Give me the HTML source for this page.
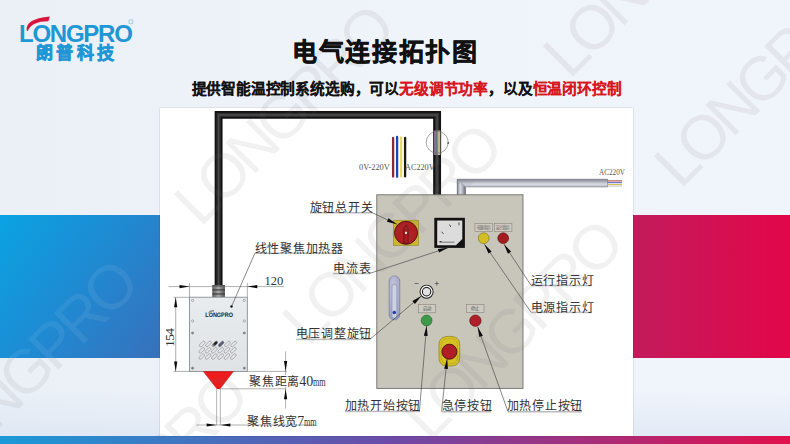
<!DOCTYPE html>
<html lang="zh-CN">
<head>
<meta charset="utf-8">
<style>
html,body{margin:0;padding:0;}
body{width:790px;height:444px;overflow:hidden;position:relative;font-family:"Liberation Sans",sans-serif;
background:linear-gradient(180deg,rgba(200,215,232,0) 0%,rgba(200,215,232,0) 88%,rgba(205,220,238,0.4) 98%),linear-gradient(90deg,#ebf0f7 0%,#eff3fa 50%,#f0f4fb 100%);}
.abs{position:absolute;}
#blue{left:0;top:215px;width:170px;height:143px;background:linear-gradient(125deg,#0aa3e3 0%,#1e8bd3 45%,#3a6eb9 100%);}
#red{left:630px;top:215px;width:160px;height:143px;background:linear-gradient(90deg,#c21c5c 0%,#e2064a 100%);}
#strip{left:0;top:436px;width:790px;height:8px;background:linear-gradient(90deg,#1a9ad8 0%,#6d4aa6 50%,#e2104c 100%);}
#panel{left:160px;top:108px;width:473px;height:328px;background:#fff;box-shadow:0 0 1.2px rgba(0,20,60,0.35);}
.title{left:292px;top:40px;font-size:25px;font-weight:900;letter-spacing:1.7px;-webkit-text-stroke:0.5px #111;color:#111;white-space:nowrap;line-height:1;}
.sub{left:191.5px;top:81.5px;font-size:14.7px;font-weight:900;letter-spacing:-0.17px;-webkit-text-stroke:0.1px currentColor;color:#111;white-space:nowrap;line-height:1;}
.sub .r{color:#d8161e;}
.lbl{position:absolute;font-family:"Liberation Serif",serif;font-size:12px;letter-spacing:0.8px;color:#333;white-space:nowrap;line-height:1;}
.lbl.sm{font-size:9px;letter-spacing:0;color:#555;}
.lbl.dim{font-size:12px;letter-spacing:0;}
.lat{letter-spacing:0;font-size:14px;margin-left:-1px;}
.mm{display:inline-block;transform:scaleX(.68);transform-origin:0 50%;letter-spacing:0;}
.wm{position:absolute;width:310px;height:62px;font-family:"Liberation Sans",sans-serif;font-size:62px;line-height:62px;text-align:center;color:rgba(110,110,110,0.095);white-space:nowrap;letter-spacing:-5px;transform:rotate(-45deg);transform-origin:50% 50%;pointer-events:none;}
.wmw{color:rgba(255,255,255,0.07);}
.rot{transform:rotate(-90deg);transform-origin:0 0;}
</style>
</head>
<body>
<div class="abs" style="left:0;top:0;width:790px;height:444px;overflow:hidden">
<div class="wm" style="left:-128.2px;top:340.2px">LONGPRO</div>
<div class="wm" style="left:-18.2px;top:453.2px">LONGPRO</div>
<div class="wm" style="left:128.2px;top:84.8px">LONGPRO</div>
<div class="wm" style="left:236.2px;top:203.8px">LONGPRO</div>
<div class="wm" style="left:356.8px;top:300.2px">LONGPRO</div>
<div class="wm" style="left:497.2px;top:-62.7px">LONGPRO</div>
<div class="wm" style="left:608.2px;top:46.8px">LONGPRO</div>
</div>
<div id="blue" class="abs"></div>
<div class="abs" style="left:0;top:215px;width:170px;height:143px;overflow:hidden">
<div class="wm wmw" style="left:-128.2px;top:125.2px">LONGPRO</div>
<div class="wm wmw" style="left:-18.2px;top:238.2px">LONGPRO</div>
<div class="wm wmw" style="left:128.2px;top:-130.2px">LONGPRO</div>
<div class="wm wmw" style="left:236.2px;top:-11.2px">LONGPRO</div>
<div class="wm wmw" style="left:356.8px;top:85.2px">LONGPRO</div>
<div class="wm wmw" style="left:497.2px;top:-277.7px">LONGPRO</div>
<div class="wm wmw" style="left:608.2px;top:-168.2px">LONGPRO</div>
</div>
<div id="red" class="abs"></div>
<div id="strip" class="abs"></div>
<div id="panel" class="abs"></div>

<div class="abs title">电气连接拓扑图</div>
<div class="abs sub">提供智能温控制系统选购，可以<span class="r">无级调节功率</span>，以及<span class="r">恒温闭环控制</span></div>

<svg id="diag" class="abs" style="left:0;top:0" width="790" height="444" viewBox="0 0 790 444">
<defs>
<linearGradient id="heat" x1="0" x2="0" y1="0" y2="1">
<stop offset="0" stop-color="#e9ecef"/><stop offset="1" stop-color="#dfe3e6"/>
</linearGradient>
<linearGradient id="pipeH" x1="0" x2="0" y1="0" y2="1">
<stop offset="0" stop-color="#7e808e"/><stop offset="0.3" stop-color="#d8dae2"/><stop offset="0.55" stop-color="#b8bac6"/><stop offset="1" stop-color="#6a6c7a"/>
</linearGradient>
<linearGradient id="pipeV" x1="0" x2="1" y1="0" y2="0">
<stop offset="0" stop-color="#7e808e"/><stop offset="0.35" stop-color="#d8dae2"/><stop offset="0.6" stop-color="#b8bac6"/><stop offset="1" stop-color="#6a6c7a"/>
</linearGradient>
<linearGradient id="gland" x1="0" x2="1" y1="0" y2="0">
<stop offset="0" stop-color="#5a5a5a"/><stop offset="0.5" stop-color="#a8a8a8"/><stop offset="1" stop-color="#505050"/>
</linearGradient>
<linearGradient id="vdark" x1="0" x2="1" y1="0" y2="0">
<stop offset="0" stop-color="#ccc"/><stop offset="0.5" stop-color="#222"/><stop offset="1" stop-color="#222"/>
</linearGradient>
<radialGradient id="thermo" cx="0.4" cy="0.3" r="0.8">
<stop offset="0" stop-color="#c0c6de"/><stop offset="1" stop-color="#9aa0c0"/>
</radialGradient>
</defs>
<!-- black cable -->
<path d="M218.6 286 V114.9 H437.1 V195" fill="none" stroke="#111" stroke-width="7.9" stroke-linejoin="miter"/>
<path d="M218.6 286 V114.9 H437.1 V195" fill="none" stroke="#2e2e2e" stroke-width="4.2" stroke-linejoin="miter"/>
<path d="M218.6 286 V114.9 H437.1 V195" fill="none" stroke="#474747" stroke-width="1.6" stroke-linejoin="miter"/>
<!-- cut-open section -->
<rect x="433.1" y="130.5" width="8" height="24.5" fill="#1e1e1e"/>
<rect x="433.7" y="130.5" width="2.7" height="24.5" fill="#8e6a90"/>
<rect x="436.4" y="130.5" width="1.1" height="24.5" fill="#6fa2b4"/>
<rect x="437.5" y="130.5" width="2.8" height="24.5" fill="#bfb688"/>
<circle cx="437.2" cy="142.3" r="11" fill="none" stroke="#6a6a6a" stroke-width="0.6"/>
<circle cx="448.2" cy="143" r="0.9" fill="#555"/>
<!-- wire bundle -->
<g stroke-width="2.3" stroke-linecap="round">
<line x1="393.1" y1="138" x2="393.1" y2="176.5" stroke="#8c2a32"/>
<line x1="397.1" y1="137" x2="397.1" y2="176.8" stroke="#1f44b4"/>
<line x1="401.1" y1="137.4" x2="401.1" y2="176.6" stroke="#e8dc62"/>
<line x1="405.1" y1="138" x2="405.1" y2="176.4" stroke="#1a1a1a"/>
</g>
<!-- gray pipe -->
<path d="M457.2 179.2 H607.6 V186.9 H465.5 V195 H457.2 Z" fill="url(#pipeH)"/>
<path d="M457.2 179.2 L465.5 186.9 V195 H457.2 Z" fill="url(#pipeV)"/>
<path d="M457.2 195 V179.2 H607.6 V186.9 H465.5 V195" fill="none" stroke="#5e606c" stroke-width="0.5"/>
<line x1="457.2" y1="179.2" x2="465.5" y2="186.9" stroke="#8a8c98" stroke-width="0.5"/>
<line x1="607.6" y1="180.9" x2="622" y2="180.9" stroke="#a83a3a" stroke-width="1"/>
<line x1="607.6" y1="182.7" x2="622" y2="182.7" stroke="#4a5ab0" stroke-width="1"/>
<line x1="607.6" y1="184.5" x2="622" y2="184.5" stroke="#d0c050" stroke-width="1"/>
<line x1="607.6" y1="186.1" x2="622" y2="186.1" stroke="#999" stroke-width="0.6"/>
<!-- control box -->
<rect x="376.8" y="194.8" width="146.2" height="193.6" fill="#c8c5bb" stroke="#6f6f6b" stroke-width="0.9"/>
<!-- rotary switch -->
<rect x="393.4" y="220.2" width="25.2" height="25.3" fill="#cbb72c" stroke="#8a7c2a" stroke-width="0.5"/>
<circle cx="406" cy="232.8" r="11.5" fill="#b01c20" stroke="#4e0c0e" stroke-width="0.9"/>
<path d="M403.9 228 L406 224.8 L408.1 228 L408.1 243.2 L403.9 243.2 Z" fill="#a81a1e" stroke="#4e0c0e" stroke-width="0.6"/>
<rect x="405" y="231.8" width="2" height="2" fill="#f4f4f4"/>
<!-- ammeter -->
<rect x="434.3" y="217.8" width="30.6" height="30.1" fill="#121212"/>
<path d="M437.2 220.5 H462.3 V239 L456 245.3 H437.2 Z" fill="#dcdcdc"/>
<line x1="439.5" y1="242.2" x2="454.5" y2="242.2" stroke="#333" stroke-width="0.6"/><line x1="439.5" y1="241.6" x2="441.5" y2="241.6" stroke="#222" stroke-width="0.9"/>
<line x1="441.5" y1="232" x2="443.6" y2="233.6" stroke="#222" stroke-width="0.8"/>
<line x1="449.5" y1="224.6" x2="450.8" y2="227" stroke="#222" stroke-width="0.8"/>
<line x1="459" y1="222.5" x2="459" y2="225.2" stroke="#222" stroke-width="0.8"/>
<!-- indicator labels -->
<g fill="#cdcac1" stroke="#86847c" stroke-width="0.6">
<rect x="475" y="223.3" width="17.5" height="8.1"/>
<rect x="494.3" y="223.3" width="17.6" height="8.1"/>
<rect x="418.4" y="304.4" width="17.2" height="8.4"/>
<rect x="466.5" y="304.4" width="17.5" height="8.2"/>
</g>
<g font-family="Liberation Sans" font-size="4.4" fill="#555">
<text x="477" y="229.3" textLength="13.5" lengthAdjust="spacingAndGlyphs">电源指示</text>
<text x="496.3" y="229.3" textLength="13.5" lengthAdjust="spacingAndGlyphs">运行指示</text>
<text x="423" y="310.2" textLength="8" lengthAdjust="spacingAndGlyphs">启动</text>
<text x="471.3" y="310.2" textLength="8" lengthAdjust="spacingAndGlyphs">停止</text>
</g>
<circle cx="483.7" cy="238.2" r="5.4" fill="#d2be22" stroke="#7a6a18" stroke-width="0.6"/>
<circle cx="503.2" cy="238.2" r="5.4" fill="#a41c1e" stroke="#5a0e10" stroke-width="0.6"/>
<!-- thermo slot -->
<rect x="389.1" y="275.9" width="10.7" height="43.9" rx="5.35" fill="url(#thermo)" stroke="#6a7090" stroke-width="0.6"/>
<rect x="392" y="284.3" width="4.8" height="34" rx="2.4" fill="#cdd1e4" stroke="#7a80a0" stroke-width="0.5"/>
<circle cx="394.3" cy="312.5" r="1.8" fill="#2442a6"/>
<!-- knob -->
<circle cx="426.6" cy="291.7" r="7" fill="#111"/>
<circle cx="426.6" cy="291.7" r="6.1" fill="#f6f6f6"/>
<circle cx="426.6" cy="291.7" r="4.7" fill="#111"/>
<circle cx="426.6" cy="291.7" r="3.7" fill="#e2e2e2"/>
<g stroke="#555" stroke-width="0.8">
<line x1="414.6" y1="283.5" x2="418.6" y2="283.5"/>
<line x1="434.8" y1="283.5" x2="438.8" y2="283.5"/>
<line x1="436.8" y1="281.5" x2="436.8" y2="285.5"/>
</g>
<circle cx="426.6" cy="320.5" r="5.4" fill="#3c9a4a" stroke="#1e5a26" stroke-width="0.6"/>
<circle cx="475.4" cy="320.7" r="5.7" fill="#b0202a" stroke="#5a0e10" stroke-width="0.6"/>
<!-- e-stop -->
<path d="M439 345 C439 338.8 442.5 336.4 449.35 336.4 C456.2 336.4 459.7 338.8 459.7 345 V357.5 C459.7 363.7 456.2 366.1 449.35 366.1 C442.5 366.1 439 363.7 439 357.5 Z" fill="#d6c222" stroke="#8c7c1c" stroke-width="0.7"/>
<path d="M441.2 345.3 C441.2 340.6 444 338.6 449.35 338.6 C454.7 338.6 457.5 340.6 457.5 345.3 V357.2 C457.5 361.9 454.7 363.9 449.35 363.9 C444 363.9 441.2 361.9 441.2 357.2 Z" fill="none" stroke="#a89a2a" stroke-width="0.5"/>
<circle cx="449.4" cy="351.7" r="7.5" fill="#ae1e24" stroke="#4e0c10" stroke-width="0.9"/>
<!-- heater -->
<rect x="212.3" y="285" width="12.6" height="12" fill="url(#gland)"/>
<g stroke="#3a3a3a" stroke-width="1.1"><line x1="212.3" y1="286" x2="224.9" y2="286"/><line x1="212.3" y1="289.9" x2="224.9" y2="289.9"/><line x1="212.3" y1="294" x2="224.9" y2="294"/></g>
<rect x="189.5" y="297.2" width="57.8" height="74.2" fill="url(#heat)" stroke="#7c8084" stroke-width="0.8"/>
<g fill="#f4f4f4" stroke="#6a6a6a" stroke-width="0.5">
<circle cx="192.6" cy="300.4" r="1.1"/><circle cx="244.3" cy="300.4" r="1.1"/>
<circle cx="192.6" cy="321" r="1.1"/><circle cx="244.3" cy="321" r="1.1"/>
<circle cx="192.6" cy="333" r="1.1" fill="#888"/><circle cx="244.3" cy="333" r="1.1" fill="#888"/>
<circle cx="192.6" cy="368.2" r="1.1" fill="#888"/><circle cx="244.3" cy="368.2" r="1.1" fill="#888"/>
</g>
<text x="205.3" y="317.2" font-family="Liberation Sans" font-weight="bold" font-size="6.4" fill="#222" textLength="27.7" lengthAdjust="spacingAndGlyphs" style="text-rendering:geometricPrecision">LONGPRO</text><path d="M208.5 312.6 Q210 310.6 214 310.8" fill="none" stroke="#333" stroke-width="0.8"/>
<g stroke="#7a7a7a" stroke-width="0.5">
<rect x="198.75" y="342.65" width="6.9" height="2.7" rx="1.35" fill="none" transform="rotate(-45 202.20 344.00)"/>
<rect x="205.05" y="342.65" width="6.9" height="2.7" rx="1.35" fill="none" transform="rotate(-45 208.50 344.00)"/>
<rect x="211.35" y="342.65" width="6.9" height="2.7" rx="1.35" fill="url(#vdark)" transform="rotate(-45 214.80 344.00)"/>
<rect x="217.65" y="342.65" width="6.9" height="2.7" rx="1.35" fill="#5a5e78" transform="rotate(-45 221.10 344.00)"/>
<rect x="223.95" y="342.65" width="6.9" height="2.7" rx="1.35" fill="none" transform="rotate(-45 227.40 344.00)"/>
<rect x="230.25" y="342.65" width="6.9" height="2.7" rx="1.35" fill="none" transform="rotate(-45 233.70 344.00)"/>
<rect x="198.35" y="348.95" width="6.9" height="2.7" rx="1.35" fill="none" transform="rotate(-45 201.80 350.30)"/>
<rect x="204.65" y="348.95" width="6.9" height="2.7" rx="1.35" fill="none" transform="rotate(-45 208.10 350.30)"/>
<rect x="210.95" y="348.95" width="6.9" height="2.7" rx="1.35" fill="none" transform="rotate(-45 214.40 350.30)"/>
<rect x="217.25" y="348.95" width="6.9" height="2.7" rx="1.35" fill="none" transform="rotate(-45 220.70 350.30)"/>
<rect x="223.55" y="348.95" width="6.9" height="2.7" rx="1.35" fill="none" transform="rotate(-45 227.00 350.30)"/>
<rect x="229.85" y="348.95" width="6.9" height="2.7" rx="1.35" fill="none" transform="rotate(-45 233.30 350.30)"/>
<rect x="198.35" y="355.25" width="6.9" height="2.7" rx="1.35" fill="none" transform="rotate(-45 201.80 356.60)"/>
<rect x="204.65" y="355.25" width="6.9" height="2.7" rx="1.35" fill="none" transform="rotate(-45 208.10 356.60)"/>
<rect x="210.95" y="355.25" width="6.9" height="2.7" rx="1.35" fill="none" transform="rotate(-45 214.40 356.60)"/>
<rect x="217.25" y="355.25" width="6.9" height="2.7" rx="1.35" fill="none" transform="rotate(-45 220.70 356.60)"/>
<rect x="223.55" y="355.25" width="6.9" height="2.7" rx="1.35" fill="none" transform="rotate(-45 227.00 356.60)"/>
<rect x="229.85" y="355.25" width="6.9" height="2.7" rx="1.35" fill="none" transform="rotate(-45 233.30 356.60)"/>
</g>
<!-- red nozzle -->
<path d="M203.4 371.6 L233.4 371.6 L219.9 389 L217.1 389 Z" fill="#ee1c1c" stroke="#b01010" stroke-width="0.5"/>
<rect x="216.6" y="389" width="3.8" height="36" fill="#fff"/>
<line x1="216.6" y1="389" x2="216.6" y2="425" stroke="#9a9a9a" stroke-width="0.7"/>
<line x1="220.4" y1="389" x2="220.4" y2="425" stroke="#9a9a9a" stroke-width="0.7"/>
<!-- dimensions -->
<g stroke="#7a7a7a" stroke-width="0.6" fill="none">
<line x1="168.6" y1="286.6" x2="284" y2="286.6"/>
<line x1="189.5" y1="283" x2="189.5" y2="297"/>
<line x1="247.3" y1="283" x2="247.3" y2="297"/>
<line x1="175.7" y1="297.3" x2="175.7" y2="371.4"/>
<line x1="173.5" y1="297.3" x2="189.5" y2="297.3"/>
<line x1="173.5" y1="371.4" x2="189.5" y2="371.4"/>
<line x1="247.3" y1="371.4" x2="287" y2="371.4"/>
<line x1="219" y1="388.8" x2="285.5" y2="388.8"/>
<line x1="285.6" y1="351.4" x2="285.6" y2="408.4"/>
<line x1="196.5" y1="425" x2="315" y2="425"/>
</g>
<path d="M189.50 286.60 L179.50 285.00 L179.50 288.20 Z" fill="#0a0a0a"/>
<path d="M247.30 286.60 L257.30 288.20 L257.30 285.00 Z" fill="#0a0a0a"/>
<path d="M175.70 297.30 L174.10 307.30 L177.30 307.30 Z" fill="#0a0a0a"/>
<path d="M175.70 371.40 L177.30 361.40 L174.10 361.40 Z" fill="#0a0a0a"/>
<path d="M285.60 371.60 L287.20 361.10 L284.00 361.10 Z" fill="#0a0a0a"/>
<path d="M285.60 388.80 L284.00 399.30 L287.20 399.30 Z" fill="#0a0a0a"/>
<path d="M216.60 425.00 L206.60 423.40 L206.60 426.60 Z" fill="#0a0a0a"/>
<path d="M220.40 425.00 L230.40 426.60 L230.40 423.40 Z" fill="#0a0a0a"/>
<line x1="310" y1="213.2" x2="372" y2="213.2" stroke="#d0d0d0" stroke-width="0.9"/>
<line x1="310" y1="212.6" x2="372" y2="212.6" stroke="#8a8a8a" stroke-width="0.6"/>
<line x1="372" y1="212.6" x2="396.8" y2="224.2" stroke="#3a3a3a" stroke-width="0.6"/>
<path d="M396.80 224.20 L388.55 218.24 L386.94 221.68 Z" fill="#0a0a0a"/>
<line x1="255" y1="253.6" x2="342" y2="253.6" stroke="#d0d0d0" stroke-width="0.9"/>
<line x1="255" y1="253.0" x2="342" y2="253.0" stroke="#8a8a8a" stroke-width="0.6"/>
<line x1="255" y1="253.0" x2="231.5" y2="306.5" stroke="#3a3a3a" stroke-width="0.6"/>
<circle cx="231.5" cy="306.5" r="1.2" fill="#111"/>
<line x1="333" y1="273.90000000000003" x2="370" y2="273.90000000000003" stroke="#d0d0d0" stroke-width="0.9"/>
<line x1="333" y1="273.3" x2="370" y2="273.3" stroke="#8a8a8a" stroke-width="0.6"/>
<line x1="370" y1="273.3" x2="448.0" y2="247.7" stroke="#3a3a3a" stroke-width="0.6"/>
<path d="M448.00 247.70 L437.91 249.01 L439.09 252.62 Z" fill="#0a0a0a"/>
<line x1="531" y1="285.90000000000003" x2="592" y2="285.90000000000003" stroke="#d0d0d0" stroke-width="0.9"/>
<line x1="531" y1="285.3" x2="592" y2="285.3" stroke="#8a8a8a" stroke-width="0.6"/>
<line x1="531" y1="285.3" x2="504.0" y2="244.3" stroke="#3a3a3a" stroke-width="0.6"/>
<path d="M504.00 244.30 L507.91 253.70 L511.09 251.61 Z" fill="#0a0a0a"/>
<line x1="531" y1="312.8" x2="592" y2="312.8" stroke="#d0d0d0" stroke-width="0.9"/>
<line x1="531" y1="312.2" x2="592" y2="312.2" stroke="#8a8a8a" stroke-width="0.6"/>
<line x1="531" y1="312.2" x2="484.4" y2="244.3" stroke="#3a3a3a" stroke-width="0.6"/>
<path d="M484.40 244.30 L488.49 253.62 L491.63 251.47 Z" fill="#0a0a0a"/>
<line x1="296" y1="339.8" x2="370" y2="339.8" stroke="#d0d0d0" stroke-width="0.9"/>
<line x1="296" y1="339.2" x2="370" y2="339.2" stroke="#8a8a8a" stroke-width="0.6"/>
<line x1="370" y1="339.2" x2="421.3" y2="296.0" stroke="#3a3a3a" stroke-width="0.6"/>
<path d="M421.30 296.00 L412.43 300.99 L414.87 303.89 Z" fill="#0a0a0a"/>
<line x1="345" y1="411.8" x2="420" y2="411.8" stroke="#d0d0d0" stroke-width="0.9"/>
<line x1="345" y1="411.2" x2="420" y2="411.2" stroke="#8a8a8a" stroke-width="0.6"/>
<line x1="419.4" y1="411.2" x2="426.6" y2="326.0" stroke="#3a3a3a" stroke-width="0.6"/>
<path d="M426.60 326.00 L423.86 335.80 L427.65 336.12 Z" fill="#0a0a0a"/>
<line x1="442" y1="412.20000000000005" x2="491" y2="412.20000000000005" stroke="#d0d0d0" stroke-width="0.9"/>
<line x1="442" y1="411.6" x2="491" y2="411.6" stroke="#8a8a8a" stroke-width="0.6"/>
<line x1="441.6" y1="411.6" x2="447.1" y2="358.9" stroke="#3a3a3a" stroke-width="0.6"/>
<path d="M447.10 358.90 L444.17 368.65 L447.95 369.04 Z" fill="#0a0a0a"/>
<line x1="508" y1="412.20000000000005" x2="582" y2="412.20000000000005" stroke="#d0d0d0" stroke-width="0.9"/>
<line x1="508" y1="411.6" x2="582" y2="411.6" stroke="#8a8a8a" stroke-width="0.6"/>
<line x1="508" y1="411.6" x2="477.7" y2="327.0" stroke="#3a3a3a" stroke-width="0.6"/>
<path d="M477.70 327.00 L479.28 337.06 L482.86 335.77 Z" fill="#0a0a0a"/>
</svg>
<!--LABELS-->
<div class="lbl" style="left:309.5px;top:202px">旋钮总开关</div>
<div class="lbl" style="left:254.5px;top:242.5px">线性聚焦加热器</div>
<div class="lbl" style="left:333px;top:263px">电流表</div>
<div class="lbl" style="left:530.5px;top:274.5px">运行指示灯</div>
<div class="lbl" style="left:530.5px;top:301.5px">电源指示灯</div>
<div class="lbl" style="left:295.5px;top:328px">电压调整旋钮</div>
<div class="lbl" style="left:344.5px;top:400px">加热开始按钮</div>
<div class="lbl" style="left:441.5px;top:400px">急停按钮</div>
<div class="lbl" style="left:506.5px;top:400px">加热停止按钮</div>
<div class="lbl sm" style="left:359px;top:163px;transform:scaleX(.93);transform-origin:0 0">0V-220V</div>
<div class="lbl sm" style="left:405px;top:163px;transform:scaleX(.91);transform-origin:0 0">AC220V</div>
<div class="lbl sm" style="left:599px;top:168px;transform:scaleX(.8);transform-origin:0 0">AC220V</div>
<div class="lbl dim" style="left:264.5px;top:274.5px;font-size:12.5px">120</div>
<div class="lbl dim rot" style="left:162.5px;top:347px;font-size:13.5px;letter-spacing:-0.6px">154</div>
<div class="lbl" style="left:249px;top:374.5px;height:12.5px;background:#fff;padding-right:1px">聚焦距离<span class="lat">40</span><span class="mm">mm</span></div>
<div class="lbl" style="left:247px;top:415px">聚焦线宽<span class="lat">7</span><span class="mm">mm</span></div>
<!--/LABELS-->

<!--LOGO-->
<div class="abs" style="left:19px;top:21.5px;font-family:'Liberation Sans',sans-serif;font-weight:bold;font-size:24px;line-height:1;color:#1f97d4;letter-spacing:-1.25px;white-space:nowrap">LONGPRO</div>
<svg id="logosvg" class="abs" style="left:0;top:0" width="160" height="70" viewBox="0 0 160 70">
<path d="M26.8 30.8 Q24.5 19.2 49.8 16.6 L48.4 21.2 Q31.5 21.2 27.8 31 Z" fill="#d8143c"/>
<circle cx="130.9" cy="21.8" r="2.1" fill="none" stroke="#7fbfe0" stroke-width="0.8"/>
</svg>
<div class="abs" style="left:36px;top:45px;font-family:'Liberation Sans',sans-serif;font-weight:900;font-size:17px;line-height:1;color:#1f97d4;letter-spacing:3.3px;-webkit-text-stroke:0.6px #1f97d4;white-space:nowrap">朗普科技</div>
<!--/LOGO-->
<!--WM-->
<div class="abs" style="left:160px;top:108px;width:473px;height:328px;overflow:hidden">
<div class="wm" style="left:-288.2px;top:232.2px">LONGPRO</div>
<div class="wm" style="left:-178.2px;top:345.2px">LONGPRO</div>
<div class="wm" style="left:-31.8px;top:-23.2px">LONGPRO</div>
<div class="wm" style="left:76.2px;top:95.8px">LONGPRO</div>
<div class="wm" style="left:196.8px;top:192.2px">LONGPRO</div>
<div class="wm" style="left:337.2px;top:-170.7px">LONGPRO</div>
<div class="wm" style="left:448.2px;top:-61.2px">LONGPRO</div>
</div>
<!--/WM-->
</body>
</html>
